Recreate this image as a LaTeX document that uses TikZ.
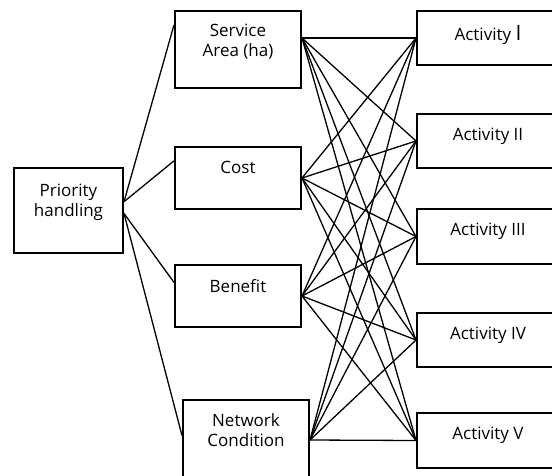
\documentclass[tikz,border=0pt]{standalone}
\usepackage{fontspec}
\setmainfont{Open Sans}
\usetikzlibrary{positioning,calc}

\tikzset{
  box/.style={draw, line width=2pt, anchor=north west, inner sep=0pt},
  crit/.style={box, minimum width=126pt},
  act/.style={box, minimum width=142pt, minimum height=54pt},
  boxtext/.style={anchor=north, yshift=-15pt, align=center, inner sep=0pt,
    font=\fontsize{17}{20}\selectfont},
  link/.style={line width=1.3pt}
}

\begin{document}
\begin{tikzpicture}[x=1pt, y=-1pt]
    \path[use as bounding box, clip] (0,0) rectangle (552,475);

    % Goal
    \node[box, minimum width=109pt, minimum height=85pt,
      label={[boxtext, yshift=-2pt]north:Priority\\handling}] (prio) at (13,167) {};

    % Criteria
    \node[crit, minimum height=77pt, label={[boxtext, yshift=1pt]north:Service\\Area (ha)}] (serv) at (174,10) {};
    \node[crit, minimum height=62pt, label={[boxtext]north:Cost}] (cost) at (174,146) {};
    \node[crit, minimum height=62pt, label={[boxtext]north:Benefit}] (bene) at (174,264) {};
    \node[crit, minimum height=80pt, label={[boxtext, yshift=1pt]north:Network\\Condition}] (netw) at (182,399) {};

    % Alternatives
    \node[act, label={[boxtext]north:Activity {\fontsize{21}{20}\selectfont I}}] (act1) at (416,10) {};
    \node[act, label={[boxtext]north:Activity II}] (act2) at (416,113) {};
    \node[act, minimum height=55pt, label={[boxtext]north:Activity III}] (act3) at (416,208) {};
    \node[act, label={[boxtext]north:Activity IV}] (act4) at (416,312) {};
    \node[act, minimum height=55pt, label={[boxtext]north:Activity V}] (act5) at (416,412) {};

    % Goal to criteria
    \draw[link] (prio.9) -- (serv.159);
    \draw[link] (prio.9) -- (cost.165);
    \draw[link] (prio.-3) -- (bene.168);
    \draw[link] (prio.-3) -- (netw.176);

    % Criteria to alternatives
    \foreach \i in {1,...,5} {
        \draw[link] (serv.east |- act1.west) -- (act\i.west);
        \draw[link] (cost.east) -- (act\i.west);
        \draw[link] (bene.east) -- (act\i.west);
        \draw[link] (netw.east) -- (act\i.west);
    }

\end{tikzpicture}
\end{document}
